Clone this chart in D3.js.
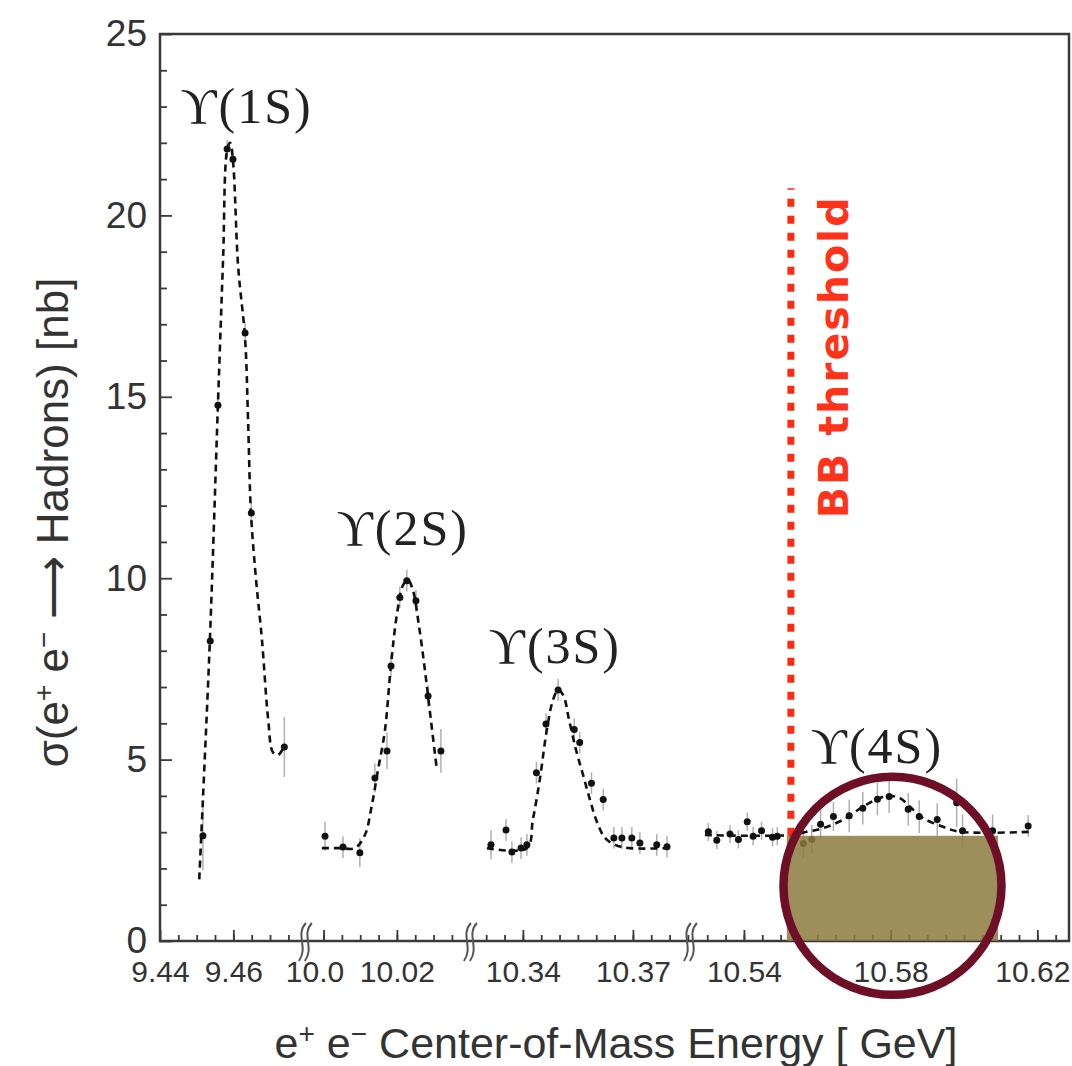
<!DOCTYPE html>
<html>
<head>
<meta charset="utf-8">
<script src="https://cdn.jsdelivr.net/npm/d3@7"></script>
<style>
  body { margin: 0; background: #fff; }
  .tick text { font-family: "Liberation Sans", Arial, sans-serif; fill: #333; }
</style>
</head>
<body>
<div id="chart"></div>
<script>
// measured cross sections, one set of arrays per resonance
var e1S = [9.4517, 9.4537, 9.4558, 9.4583, 9.4599, 9.4632, 9.4649, 9.4739];
var s1S = [2.9, 8.27, 14.77, 21.83, 21.55, 16.76, 11.8, 5.35];
var err1S = [0.95, 0.2, 0.2, 0.25, 0.25, 0.3, 0.3, 0.83];

var e2S = [10.0004, 10.0053, 10.0099, 10.0140, 10.0173, 10.0184, 10.0208, 10.0227, 10.0252, 10.0285, 10.0320];
var s2S = [2.89, 2.59, 2.43, 4.49, 5.24, 7.58, 9.47, 9.93, 9.38, 6.75, 5.24];
var err2S = [0.4, 0.3, 0.4, 0.4, 0.5, 0.3, 0.3, 0.3, 0.3, 0.3, 0.6];

var e3S = [10.3313, 10.3354, 10.3370, 10.3395, 10.3411, 10.3437, 10.3463, 10.3496, 10.3540, 10.3555, 10.3587, 10.3619, 10.3648, 10.3670, 10.3697, 10.3719, 10.3765, 10.3793];
var s3S = [2.65, 3.06, 2.45, 2.56, 2.65, 4.64, 5.98, 6.92, 5.83, 5.47, 4.35, 3.9, 2.84, 2.84, 2.84, 2.7, 2.65, 2.6];
var err3S = [0.4, 0.3, 0.3, 0.3, 0.3, 0.3, 0.3, 0.3, 0.3, 0.3, 0.3, 0.3, 0.3, 0.3, 0.3, 0.3, 0.3, 0.3];

var e4S = [10.5303, 10.5326, 10.5362, 10.5385, 10.5409, 10.5425, 10.5448, 10.5478, 10.5491, 10.5562, 10.5585, 10.5609, 10.5644, 10.5687, 10.5724, 10.5764, 10.5796, 10.5848, 10.5878, 10.5927, 10.5980, 10.5996, 10.6078, 10.6175];
var s4S = [3.01, 2.78, 2.95, 2.80, 3.29, 2.89, 3.04, 2.86, 2.89, 2.69, 2.80, 3.22, 3.43, 3.45, 3.66, 3.91, 3.98, 3.63, 3.43, 3.35, 3.81, 3.04, 3.04, 3.17];
var err4S = [0.25, 0.25, 0.25, 0.25, 0.25, 0.25, 0.25, 0.25, 0.25, 0.4, 0.4, 0.4, 0.4, 0.45, 0.45, 0.45, 0.45, 0.45, 0.45, 0.45, 0.67, 0.45, 0.45, 0.3];

// fitted line shapes
var fitE1S = [9.4507, 9.4517, 9.4536, 9.4558, 9.4572, 9.4583, 9.4591, 9.4599, 9.4613, 9.4632, 9.4640, 9.4648, 9.4662, 9.4678, 9.4695, 9.4708, 9.4722, 9.4738];
var fitS1S = [1.7, 3.9, 8.3, 14.8, 18.8, 21.8, 22.0, 21.5, 18.6, 16.6, 14.4, 11.8, 9.95, 8.3, 6.1, 5.2, 5.13, 5.35];

var fitE2S = [9.99955, 10.00446, 10.00855, 10.01127, 10.01318, 10.01482, 10.01673, 10.01836, 10.02, 10.02164, 10.023, 10.02436, 10.026, 10.02764, 10.02927, 10.03091];
var fitS2S = [2.56, 2.56, 2.56, 2.92, 3.75, 4.7, 5.8, 7.58, 9.0, 9.8, 9.95, 9.67, 8.7, 7.47, 6.09, 4.71];

var fitE3S = [10.3302, 10.3411, 10.3427, 10.3446, 10.3465, 10.3482, 10.3496, 10.3510, 10.3526, 10.3545, 10.3564, 10.3583, 10.3602, 10.3624, 10.3651, 10.3692, 10.3796];
var fitS3S = [2.56, 2.56, 3.33, 4.44, 5.8, 6.64, 6.92, 6.78, 6.09, 5.26, 4.58, 3.89, 3.28, 2.84, 2.65, 2.56, 2.56];

var fitE4S = [10.52936, 10.55254, 10.5571, 10.56154, 10.567, 10.57245, 10.57627, 10.579, 10.58254, 10.58527, 10.5888, 10.59427, 10.5989, 10.618];
var fitS4S = [2.92, 2.92, 3.01, 3.11, 3.34, 3.70, 3.91, 4.0, 3.94, 3.70, 3.39, 3.15, 3.01, 3.01];

// broken energy axis: four windows
var xWindows = [[9.44, 9.4795], [9.99491, 10.0399], [10.32555, 10.38554], [10.52527, 10.62863]];
var xTickValues = [9.44, 9.46, 10.00, 10.02, 10.34, 10.37, 10.54, 10.58, 10.62];
var xTickLabels = ["9.44", "9.46", "10.0", "10.02", "10.34", "10.37", "10.54", "10.58", "10.62"];
var yTickValues = [0, 5, 10, 15, 20, 25];

var bbThreshold = 10.5528;

var svgWidth = 1072;
var svgHeight = 1066;
var margin = { top: 34, right: 3, bottom: 125, left: 160 };
var width = svgWidth - margin.left - margin.right;
var height = svgHeight - margin.top - margin.bottom;

var svg = d3.select("#chart")
  .append("svg")
  .attr("width", svgWidth)
  .attr("height", svgHeight);

var chartGroup = svg.append("g")
  .attr("transform", `translate(${margin.left}, ${margin.top})`);

// piecewise scale, each window gets the same px per MeV
var total = d3.sum(xWindows, w => w[1] - w[0]);
var acc = 0;
var xDomain = [], xRange = [];
xWindows.forEach(function(w) {
  xDomain.push(w[0]);
  xRange.push(acc / total * width);
  acc += w[1] - w[0];
  xDomain.push(w[1]);
  xRange.push(acc / total * width);
});
var xScale = d3.scaleLinear().domain(xDomain).range(xRange);
var yScale = d3.scaleLinear().domain([0, 25]).range([height, 0]);

// minor ticks every 5 MeV
var xMinor = [];
[[9445, 9480], [10000, 10040], [10330, 10386], [10530, 10626]].forEach(function(r) {
  d3.range(r[0], r[1], 5).forEach(d => xMinor.push(d / 1000));
});

var axisColor = "#3a3a3a";

chartGroup.append("g")
  .attr("transform", `translate(0, ${height})`)
  .call(d3.axisBottom(xScale).tickValues(xMinor).tickSizeInner(-6).tickSizeOuter(0).tickFormat(""))
  .call(g => g.select(".domain").remove())
  .call(g => g.selectAll("line").attr("stroke", axisColor).attr("stroke-width", 1.8));

var labelShift = { "10.0": -9, "10.62": -5 };
chartGroup.append("g")
  .attr("transform", `translate(0, ${height})`)
  .call(d3.axisBottom(xScale).tickValues(xTickValues).tickSizeInner(-11).tickSizeOuter(0)
    .tickPadding(20).tickFormat((d, i) => xTickLabels[i]))
  .call(g => g.select(".domain").remove())
  .call(g => g.selectAll("line").attr("stroke", axisColor).attr("stroke-width", 1.8))
  .call(g => g.selectAll("text").attr("font-size", 30).attr("dx", t => labelShift[xTickLabels[xTickValues.indexOf(t)]] || 0));

chartGroup.append("g")
  .call(d3.axisLeft(yScale).tickValues(d3.range(0, 26).filter(d => d % 5 != 0)).tickSizeInner(-7).tickSizeOuter(0).tickFormat(""))
  .call(g => g.select(".domain").remove())
  .call(g => g.selectAll("line").attr("stroke", axisColor).attr("stroke-width", 1.8));

chartGroup.append("g")
  .call(d3.axisLeft(yScale).tickValues(yTickValues).tickSizeInner(-12).tickSizeOuter(0).tickPadding(13))
  .call(g => g.select(".domain").remove())
  .call(g => g.selectAll("line").attr("stroke", axisColor).attr("stroke-width", 1.8))
  .call(g => g.selectAll("text").attr("font-size", 37));

// frame
chartGroup.append("rect")
  .attr("width", width)
  .attr("height", height)
  .attr("fill", "none")
  .attr("stroke", axisColor)
  .attr("stroke-width", 2.5);

// axis break marks
xWindows.slice(0, 3).forEach(function(w) {
  var bx = xScale(w[1]);
  [-3, 3].forEach(function(off) {
    chartGroup.append("path")
      .attr("d", `M${bx + off + 4},${height - 18} C${bx + off - 7},${height - 6} ${bx + off + 7},${height + 6} ${bx + off - 3},${height + 20}`)
      .attr("fill", "none")
      .attr("stroke", "#555")
      .attr("stroke-width", 2);
  });
});

var fitLine = d3.line()
  .x(d => xScale(d[0]))
  .y(d => yScale(d[1]))
  .curve(d3.curveCatmullRom);

var sets = [
  { e: e1S, s: s1S, err: err1S, fe: fitE1S, fs: fitS1S },
  { e: e2S, s: s2S, err: err2S, fe: fitE2S, fs: fitS2S },
  { e: e3S, s: s3S, err: err3S, fe: fitE3S, fs: fitS3S },
  { e: e4S, s: s4S, err: err4S, fe: fitE4S, fs: fitS4S }
];

sets.forEach(function(set) {
  var pts = set.e.map((e, i) => ({ e: e, s: set.s[i], err: set.err[i] }));

  chartGroup.append("g").selectAll("line")
    .data(pts)
    .enter()
    .append("line")
    .attr("x1", d => xScale(d.e))
    .attr("x2", d => xScale(d.e))
    .attr("y1", d => yScale(d.s - d.err))
    .attr("y2", d => yScale(d.s + d.err))
    .attr("stroke", "#b0b0b0")
    .attr("stroke-width", 1.5);

  chartGroup.append("path")
    .datum(set.fe.map((e, i) => [e, set.fs[i]]))
    .attr("d", fitLine)
    .attr("fill", "none")
    .attr("stroke", "#111")
    .attr("stroke-width", 2.6)
    .attr("stroke-dasharray", "7,5");

  chartGroup.append("g").selectAll("circle")
    .data(pts)
    .enter()
    .append("circle")
    .attr("cx", d => xScale(d.e))
    .attr("cy", d => yScale(d.s))
    .attr("r", 3.5)
    .attr("fill", "#111");
});

// region above BB threshold
chartGroup.append("rect")
  .attr("x", xScale(10.5517))
  .attr("y", yScale(2.9))
  .attr("width", xScale(10.6093) - xScale(10.5517))
  .attr("height", yScale(0) - yScale(2.9))
  .attr("fill", "#8c7b40")
  .attr("fill-opacity", 0.85);

chartGroup.append("line")
  .attr("x1", xScale(bbThreshold))
  .attr("x2", xScale(bbThreshold))
  .attr("y1", yScale(2.9))
  .attr("y2", yScale(20.75))
  .attr("stroke", "#ff2a12")
  .attr("stroke-width", 7)
  .attr("stroke-dasharray", "8,9");

chartGroup.append("text")
  .attr("transform", `translate(${xScale(bbThreshold) + 57}, ${yScale(16.1)}) rotate(-90)`)
  .attr("text-anchor", "middle")
  .attr("font-family", "DejaVu Sans, sans-serif")
  .attr("font-weight", "bold")
  .attr("font-size", 41)
  .attr("letter-spacing", 2)
  .attr("fill", "#ff3319")
  .text("BB threshold");

chartGroup.append("circle")
  .attr("cx", xScale(10.5805))
  .attr("cy", yScale(1.52))
  .attr("r", 109)
  .attr("fill", "none")
  .attr("stroke", "#6e0f27")
  .attr("stroke-width", 8.5);

// resonance labels
var peakLabels = [["ϒ(1S)", 9.46359, 22.55], ["ϒ(2S)", 10.0216, 10.91], ["ϒ(3S)", 10.34873, 7.66], ["ϒ(4S)", 10.57627, 4.9]];
peakLabels.forEach(function(p) {
  chartGroup.append("text")
    .attr("x", xScale(p[1]))
    .attr("y", yScale(p[2]))
    .attr("text-anchor", "middle")
    .attr("font-family", "Liberation Serif, DejaVu Serif, serif")
    .attr("font-size", 50)
    .attr("letter-spacing", 2)
    .attr("fill", "#222")
    .text(p[0]);
});

// axis titles
var yTitle = svg.append("text")
  .attr("transform", `translate(68, ${margin.top + height / 2 + 35}) rotate(-90)`)
  .attr("text-anchor", "middle")
  .attr("font-family", "Liberation Sans, Arial, sans-serif")
  .attr("font-size", 44)
  .attr("fill", "#333");
yTitle.append("tspan").text("σ(e");
yTitle.append("tspan").attr("baseline-shift", "super").attr("font-size", 28).text("+");
yTitle.append("tspan").text(" e");
yTitle.append("tspan").attr("baseline-shift", "super").attr("font-size", 28).text("−");
yTitle.append("tspan").text(" ⟶ Hadrons) [nb]");

var xTitle = svg.append("text")
  .attr("x", 616)
  .attr("y", 1058)
  .attr("text-anchor", "middle")
  .attr("font-family", "Liberation Sans, Arial, sans-serif")
  .attr("font-size", 43)
  .attr("fill", "#333");
xTitle.append("tspan").text("e");
xTitle.append("tspan").attr("baseline-shift", "super").attr("font-size", 28).text("+");
xTitle.append("tspan").text(" e");
xTitle.append("tspan").attr("baseline-shift", "super").attr("font-size", 28).text("−");
xTitle.append("tspan").text(" Center-of-Mass Energy [ GeV]");
</script>
</body>
</html>
